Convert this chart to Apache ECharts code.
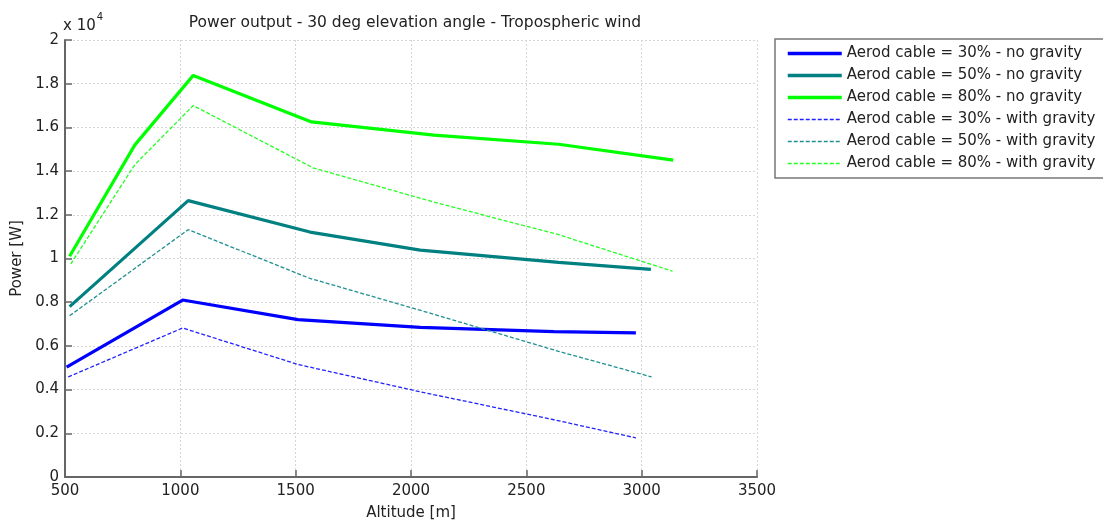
<!DOCTYPE html>
<html>
<head>
<meta charset="utf-8">
<script src="https://cdn.jsdelivr.net/npm/echarts@6/dist/echarts.min.js"></script>
<style>
  html, body { margin: 0; padding: 0; background: #fff; }
  #chart { width: 1103px; height: 526px; }
</style>
</head>
<body>
<div id="chart"></div>
<script>
// Power output [W] versus operating altitude [m], 30 deg elevation angle
const alt30 = [507, 1010, 1510, 2040, 2620, 2975];
const pow30NoGrav = [5030, 8100, 7200, 6850, 6650, 6600];
const alt50 = [520, 1034, 1562, 2040, 2640, 3040];
const pow50NoGrav = [7800, 12650, 11210, 10380, 9820, 9500];
const alt80 = [520, 803, 1056, 1569, 2100, 2640, 3137];
const pow80NoGrav = [10100, 15200, 18380, 16250, 15650, 15230, 14500];

const alt30G = [514, 1010, 1510, 2040, 2620, 2975];
const pow30WithGrav = [4580, 6820, 5150, 3900, 2620, 1790];
const alt50G = [520, 1034, 1562, 2050, 2640, 3043];
const pow50WithGrav = [7380, 11320, 9090, 7600, 5750, 4580];
const alt80G = [525, 803, 1056, 1575, 2100, 2640, 3134];
const pow80WithGrav = [9750, 14300, 17000, 14150, 12580, 11090, 9420];

const seriesNames = [
  'Aerod cable = 30% - no gravity',
  'Aerod cable = 50% - no gravity',
  'Aerod cable = 80% - no gravity',
  'Aerod cable = 30% - with gravity',
  'Aerod cable = 50% - with gravity',
  'Aerod cable = 80% - with gravity'
];
const xTicks = [500, 1000, 1500, 2000, 2500, 3000, 3500];
const yTicks = [0, 2000, 4000, 6000, 8000, 10000, 12000, 14000, 16000, 18000, 20000];

const FONT = 'DejaVu Sans, sans-serif';
const SOLID_W = 3.2;
const DASH_W = 1.3;

function pairs(xs, ys) { return xs.map((x, i) => [x, ys[i]]); }

function lineSeries(name, xs, ys, color, width, dashed) {
  return {
    name: name,
    type: 'line',
    symbol: 'none',
    data: pairs(xs, ys),
    lineStyle: { color: color, width: width, type: dashed ? [4, 2] : 'solid' },
    itemStyle: { color: color },
    emphasis: { disabled: true },
    animation: false
  };
}

const chart = echarts.init(document.getElementById('chart'), null, { renderer: 'canvas' });

chart.setOption({
  backgroundColor: '#ffffff',
  animation: false,
  title: {
    text: 'Power output - 30 deg elevation angle - Tropospheric wind',
    left: 410, top: 10, textAlign: 'center',
    textStyle: { fontFamily: FONT, fontSize: 15.5, fontWeight: 'normal', color: '#222' }
  },
  grid: { left: 65, top: 40, width: 692, height: 440, containLabel: false },
  legend: {
    orient: 'vertical',
    left: 786, top: 46,
    padding: 0,
    itemWidth: 54, itemHeight: 14, itemGap: 7,
    itemStyle: { color: 'transparent', borderColor: 'transparent', borderWidth: 0 },
    textStyle: { fontFamily: FONT, fontSize: 15, color: '#222', lineHeight: 14 },
    data: seriesNames.map((n, i) => ({
      name: n,
      lineStyle: { width: i < 3 ? 3.5 : 1.5 }
    }))
  },
  xAxis: {
    type: 'value',
    min: xTicks[0], max: xTicks[xTicks.length - 1], interval: 500,
    name: 'Altitude [m]', nameLocation: 'middle', nameGap: 29,
    nameTextStyle: { fontFamily: FONT, fontSize: 15, color: '#222' },
    axisLine: { show: true, onZero: false, lineStyle: { color: '#666', width: 2 } },
    axisTick: { show: true, inside: true, length: 7, lineStyle: { color: '#666', width: 1.5 } },
    axisLabel: { fontFamily: FONT, fontSize: 15, color: '#222', margin: 7, formatter: v => String(v) },
    splitLine: { show: true, lineStyle: { color: '#d6d6d6', type: [2, 2], width: 1 } }
  },
  yAxis: {
    type: 'value',
    min: yTicks[0], max: yTicks[yTicks.length - 1], interval: 2000,
    name: 'Power [W]', nameLocation: 'middle', nameGap: 37,
    nameTextStyle: { fontFamily: FONT, fontSize: 15, color: '#222' },
    axisLine: { show: true, onZero: false, lineStyle: { color: '#666', width: 2 } },
    axisTick: { show: true, inside: true, length: 7, lineStyle: { color: '#666', width: 1.5 } },
    axisLabel: {
      fontFamily: FONT, fontSize: 15, color: '#222', margin: 6,
      formatter: v => String(+(v / 1e4).toFixed(1))
    },
    splitLine: { show: true, lineStyle: { color: '#d6d6d6', type: [2, 2], width: 1 } }
  },
  graphic: [
    {
      type: 'rect', silent: true,
      shape: { x: 775, y: 39, width: 340, height: 139 },
      style: { fill: '#fff', stroke: '#777', lineWidth: 1.5 },
      z: -1, zlevel: 0
    },
    {
      type: 'text', silent: true, left: 63, top: 12,
      style: {
        text: '{b|x 10}{s|4}',
        rich: {
          b: { fontFamily: FONT, fontSize: 15, fill: '#222', verticalAlign: 'bottom', lineHeight: 22 },
          s: { fontFamily: FONT, fontSize: 10, fill: '#222', verticalAlign: 'top', lineHeight: 22, padding: [0, 0, 10, 1] }
        }
      }
    }
  ],
  series: [
    lineSeries(seriesNames[0], alt30, pow30NoGrav, '#0000ff', SOLID_W, false),
    lineSeries(seriesNames[1], alt50, pow50NoGrav, '#008080', SOLID_W, false),
    lineSeries(seriesNames[2], alt80, pow80NoGrav, '#00ff00', SOLID_W, false),
    lineSeries(seriesNames[3], alt30G, pow30WithGrav, '#2222ff', DASH_W, true),
    lineSeries(seriesNames[4], alt50G, pow50WithGrav, '#209090', DASH_W, true),
    lineSeries(seriesNames[5], alt80G, pow80WithGrav, '#22ff22', DASH_W, true)
  ]
});
</script>
</body>
</html>
